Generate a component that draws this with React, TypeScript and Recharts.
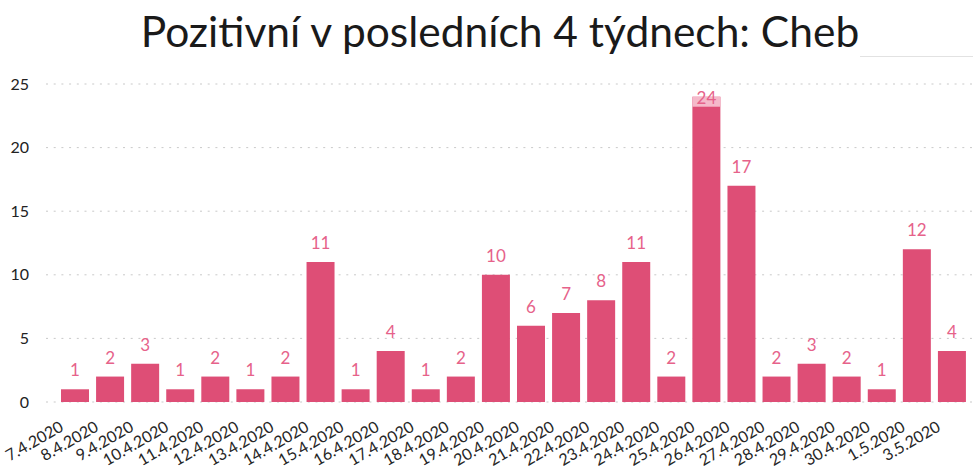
import React from 'react';
import { BarChart, Bar, XAxis, YAxis, CartesianGrid, LabelList } from 'recharts';

const dates = ['7.4.2020','8.4.2020','9.4.2020','10.4.2020','11.4.2020','12.4.2020','13.4.2020','14.4.2020','15.4.2020','16.4.2020','17.4.2020','18.4.2020','19.4.2020','20.4.2020','21.4.2020','22.4.2020','23.4.2020','24.4.2020','25.4.2020','26.4.2020','27.4.2020','28.4.2020','29.4.2020','30.4.2020','1.5.2020','3.5.2020'];
const positives = [1,2,3,1,2,1,2,11,1,4,1,2,10,6,7,8,11,2,24,17,2,3,2,1,12,4];
const yTicks = [0,5,10,15,20,25];
const title = 'Pozitivní v posledních 4 týdnech: Cheb';

const data = dates.map((d, i) => ({ date: d, value: positives[i] }));

const FONT = 'Lato, "Noto Sans", sans-serif';
const BAR = '#de4e76';
const LABEL = '#e6628a';

const XTick = (props: any) => {
  const { x, y, payload } = props;
  const px = x - 10;
  const py = y + 20;
  return (
    <text x={px} y={py} transform={`rotate(-30, ${px}, ${py})`} textAnchor="end" fontSize={16} fill="#262626" fontFamily={FONT}>
      {payload.value}
    </text>
  );
};

const BarLabel = (props: any) => {
  const { x, y, width, value } = props;
  const cx = x + width / 2;
  if (y - 26 < 84) {
    return (
      <g>
        <rect x={x} y={y} width={width} height={10} fill="#f5b9ca" />
        <text x={cx} y={y + 7} textAnchor="middle" fontSize={17} fill={LABEL} fontFamily={FONT}>{value}</text>
      </g>
    );
  }
  return (
    <text x={cx} y={y - 13} textAnchor="middle" fontSize={17} fill={LABEL} fontFamily={FONT}>{value}</text>
  );
};

export default function App() {
  return (
    <div style={{ position: 'absolute', left: 0, top: 0, width: 973, height: 468, background: '#fff', fontFamily: FONT }}>
      <div style={{ position: 'absolute', left: 0, top: 0, width: 1000, textAlign: 'center', fontSize: 42.5, lineHeight: '62px', color: '#1a1a1a', fontFamily: FONT }}>
        {title}
      </div>
      <div style={{ position: 'absolute', left: 860, top: 56, width: 113, height: 1, background: '#e2e2e2' }} />
      <div style={{ position: 'absolute', left: 0, top: 0 }}>
        <BarChart width={973} height={468} data={data} margin={{ top: 84, right: 1, bottom: 0, left: 0 }}>
          <CartesianGrid horizontal vertical={false} stroke="#c9c9c9" strokeDasharray="2 5.7" />
          <XAxis dataKey="date" interval={0} height={66} axisLine={false} tickLine={false} tick={<XTick />} padding={{ left: 11, right: 3 }} />
          <YAxis width={46} domain={[0, 25]} ticks={yTicks} axisLine={false} tickLine={false} tickSize={0} tickMargin={17} tick={{ fontSize: 16, fill: '#222', fontFamily: FONT }} />
          <Bar dataKey="value" fill={BAR} barSize={28} isAnimationActive={false}>
            <LabelList dataKey="value" content={<BarLabel />} />
          </Bar>
        </BarChart>
      </div>
    </div>
  );
}
